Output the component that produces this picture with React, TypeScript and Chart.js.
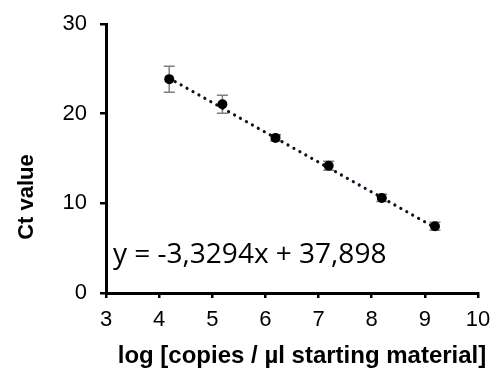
import React, { useEffect, useRef } from "react";
import { Chart, registerables } from "chart.js";

Chart.register(...registerables);

const logCopies = [4.19, 5.19, 6.19, 7.19, 8.19, 9.19];
const ctValues = [23.85, 21.05, 17.3, 14.2, 10.6, 7.45];
const ctErrors = [1.45, 1.0, 0.35, 0.5, 0.4, 0.45];
const slope = -3.3294;
const intercept = 37.898;
const equationLabel = "y = -3,3294x + 37,898";
const xTitle = "log [copies / µl starting material]";
const yTitle = "Ct value";

const errorBarPlugin = {
  id: "errorBars",
  beforeDatasetsDraw(chart: any) {
    const ctx = chart.ctx;
    const xs = chart.scales.x;
    const ys = chart.scales.y;
    ctx.save();
    ctx.strokeStyle = "#7f7f7f";
    ctx.lineWidth = 1.5;
    logCopies.forEach((xv, i) => {
      const px = xs.getPixelForValue(xv);
      const top = ys.getPixelForValue(ctValues[i] + ctErrors[i]);
      const bot = ys.getPixelForValue(ctValues[i] - ctErrors[i]);
      ctx.beginPath();
      ctx.moveTo(px, top);
      ctx.lineTo(px, bot);
      ctx.moveTo(px - 5.5, top);
      ctx.lineTo(px + 5.5, top);
      ctx.moveTo(px - 5.5, bot);
      ctx.lineTo(px + 5.5, bot);
      ctx.stroke();
    });
    ctx.restore();
  },
};

const textPlugin = {
  id: "texts",
  afterDraw(chart: any) {
    const ctx = chart.ctx;
    ctx.save();
    ctx.fillStyle = "#000";
    // equation
    ctx.font = '28px "Open Sans"';
    ctx.textAlign = "left";
    ctx.textBaseline = "alphabetic";
    ctx.fillText(equationLabel, 113, 263);
    // x title
    ctx.font = 'bold 24px "Liberation Sans"';
    ctx.textAlign = "center";
    ctx.fillText(xTitle, 302, 363);
    // y title
    ctx.translate(33, 197);
    ctx.rotate(-Math.PI / 2);
    ctx.font = 'bold 22px "Liberation Sans"';
    ctx.textAlign = "center";
    ctx.fillText(yTitle, 0, 0);
    ctx.restore();
  },
};

export default function App() {
  const ref = useRef<HTMLCanvasElement>(null);
  useEffect(() => {
    if (!ref.current) return;
    const x0 = logCopies[0];
    const x1 = logCopies[logCopies.length - 1];
    const chart = new Chart(ref.current, {
      type: "scatter",
      data: {
        datasets: [
          {
            data: logCopies.map((x, i) => ({ x, y: ctValues[i] })),
            backgroundColor: "#000",
            borderColor: "#000",
            pointRadius: 5,
            pointBorderWidth: 0,
            showLine: false,
            order: 0,
          },
          {
            data: [
              { x: x0, y: slope * x0 + intercept },
              { x: x1, y: slope * x1 + intercept },
            ],
            showLine: true,
            borderColor: "#0b1320",
            borderWidth: 3.2,
            borderDash: [0.01, 6.8],
            borderCapStyle: "round",
            pointRadius: 0,
            order: 1,
          } as any,
        ],
      },
      options: {
        animation: false,
        responsive: false,
        plugins: { legend: { display: false }, tooltip: { enabled: false } },
        layout: { padding: { top: 24, right: 17, left: 0, bottom: 0 } },
        scales: {
          x: {
            type: "linear",
            min: 3,
            max: 10,
            ticks: {
              stepSize: 1,
              color: "#000",
              font: { family: "Liberation Sans", size: 22 },
              padding: 9,
              maxRotation: 0,
            },
            grid: {
              drawOnChartArea: false,
              drawTicks: true,
              tickLength: 5,
              color: "#000",
              lineWidth: 2.5,
            },
            border: { display: true, color: "#000", width: 3 },
            afterFit(scale: any) {
              scale.height = 76;
              scale.paddingLeft = 0;
              scale.paddingRight = 0;
            },
          },
          y: {
            type: "linear",
            min: 0,
            max: 30,
            ticks: {
              stepSize: 10,
              color: "#000",
              font: { family: "Liberation Sans", size: 22 },
              padding: 13,
            },
            grid: {
              drawOnChartArea: false,
              drawTicks: true,
              tickLength: 6,
              color: "#000",
              lineWidth: 2.5,
            },
            border: { display: true, color: "#000", width: 3 },
            afterFit(scale: any) {
              scale.width = 106;
              scale.paddingTop = 0;
              scale.paddingBottom = 0;
            },
          },
        },
      },
      plugins: [errorBarPlugin, textPlugin],
    });
    return () => chart.destroy();
  }, []);
  return (
    <div style={{ position: "fixed", left: 0, top: 0, width: 495, height: 369, background: "#fff" }}>
      <canvas ref={ref} width={495} height={369} style={{ width: 495, height: 369 }} />
    </div>
  );
}
